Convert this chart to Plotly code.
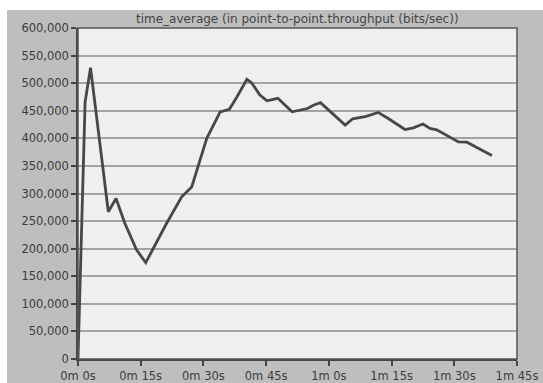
import plotly.graph_objects as go

# Time-averaged point-to-point throughput (bits/sec) sampled over the run
time_s = [0, 1.7, 3.0, 7.25, 9.1, 11.2, 14.0, 16.2, 21.2, 24.8, 27.2, 30.8,
          34.0, 36.2, 38.0, 40.4, 41.5, 43.5, 45.2, 47.8, 51.2, 54.9, 56.3,
          58.0, 63.9, 65.7, 68.9, 71.8, 74.3, 78.2, 80.2, 82.5, 84.2, 85.8,
          91.0, 93.0, 99.0]
throughput = [0, 466000, 528000, 267000, 291000, 246000, 198000, 174600,
              246000, 294000, 312000, 400000, 448000, 452600, 475000, 507000,
              501000, 478500, 468000, 472500, 448000, 454000, 460000, 464600,
              424000, 435500, 440000, 447000, 435500, 416000, 419000, 426000,
              418000, 415500, 393500, 393000, 369000]

x_tickvals = [0, 15, 30, 45, 60, 75, 90, 105]
x_ticktext = ["0m 0s", "0m 15s", "0m 30s", "0m 45s",
              "1m 0s", "1m 15s", "1m 30s", "1m 45s"]
y_tickvals = list(range(0, 600001, 50000))

title_text = "time_average (in point-to-point.throughput (bits/sec))"

fig = go.Figure()
fig.add_trace(go.Scatter(
    x=time_s, y=throughput, mode="lines",
    line=dict(color="#474747", width=2.8),
    hoverinfo="skip", showlegend=False,
))

W, H = 543, 383
ml, mr, mt, mb = 78, 26, 28, 24
pw, ph = W - ml - mr, H - mt - mb

def px_x(px):
    return (px - ml) / pw

def px_y(py):
    return (H - mb - py) / ph

shapes = [
    # white edge along the top and left of the gray frame
    dict(type="rect", xref="paper", yref="paper", layer="below",
         x0=px_x(-2), x1=px_x(W + 2), y0=px_y(10), y1=px_y(-2),
         fillcolor="white", line=dict(width=0)),
    dict(type="rect", xref="paper", yref="paper", layer="below",
         x0=px_x(-2), x1=px_x(7), y0=px_y(H + 2), y1=px_y(-2),
         fillcolor="white", line=dict(width=0)),
    # plot-area border
    dict(type="rect", xref="paper", yref="paper", layer="above",
         x0=0, x1=1, y0=0, y1=1, fillcolor="rgba(0,0,0,0)",
         line=dict(color="#555555", width=1.5)),
]

label_font = dict(family="DejaVu Sans, sans-serif", size=11.5, color="#3c3c3c")

axis_common = dict(
    zeroline=False, automargin=False,
    showline=True, linecolor="#444444", linewidth=1.5,
    ticks="outside", ticklen=5, tickcolor="#444444", tickwidth=1.5,
    tickfont=label_font,
    fixedrange=True,
)

fig.update_layout(
    width=W, height=H, autosize=False,
    margin=dict(l=ml, r=mr, t=mt, b=mb, pad=0, autoexpand=False),
    paper_bgcolor="#bebebe",
    plot_bgcolor="#efefef",
    font=label_font,
    shapes=shapes,
    annotations=[dict(
        text=title_text, xref="paper", yref="paper",
        x=0.5, y=px_y(19), xanchor="center", yanchor="middle",
        showarrow=False,
        font=dict(family="DejaVu Sans, sans-serif", size=12, color="#444444"),
    )],
    xaxis=dict(
        range=[0, 105], tickvals=x_tickvals, ticktext=x_ticktext,
        showgrid=False, **axis_common,
    ),
    yaxis=dict(
        range=[0, 600000], tickvals=y_tickvals, tickformat=",d",
        showgrid=True, gridcolor="#a3a3a3", gridwidth=1.6,
        **axis_common,
    ),
)

fig.write_html("out.html", config={"displayModeBar": False})
